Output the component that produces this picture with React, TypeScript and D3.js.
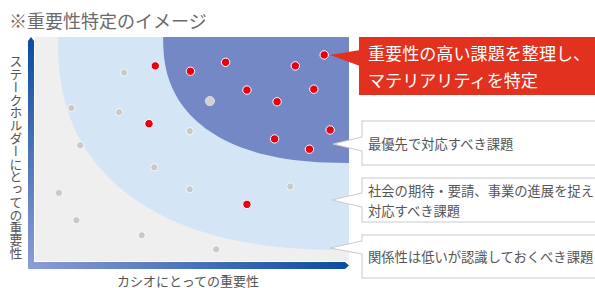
import React from "react";
import * as d3 from "d3";

// importance scores (0-100), x = company, y = stakeholders
const redX = [38.3, 49.5, 60.7, 82.9, 92.1, 67.5, 88.8, 77.1, 36.3, 94.0, 76.3, 87.4, 67.5];
const redY = [87.1, 84.7, 88.7, 87.1, 92.0, 76.3, 76.7, 71.1, 61.3, 58.5, 54.5, 49.9, 25.3];
const grayX = [28.4, 11.6, 26.8, 14.4, 49.3, 38.0, 49.3, 81.3, 7.6, 13.2, 34.0, 57.7];
const grayY = [84.1, 68.3, 66.4, 51.7, 58.0, 41.8, 32.0, 33.3, 30.4, 18.2, 11.5, 5.2];
const bigGrayX = [55.7];
const bigGrayY = [71.4];

// zone edges: where each band meets the top edge (x) and the right edge (y)
const zoneTopX = [7.3, 40.8];
const zoneRightY = [4.9, 43.8];
const zoneColors = ["#d4e5f5", "#7388c4"];

const title = "※重要性特定のイメージ";
const yLabel = "ステークホルダーにとっての重要性";
const xLabel = "カシオにとっての重要性";
const redLines = ["重要性の高い課題を整理し、", "マテリアリティを特定"];
const boxLines = [
  ["最優先で対応すべき課題"],
  ["社会の期待・要請、事業の進展を捉え", "対応すべき課題"],
  ["関係性は低いが認識しておくべき課題"],
];

const W = 595, H = 288;
const left = 35, right = 349, top = 37, bottom = 261;
const font = "'Noto Sans CJK JP', 'Noto Sans', sans-serif";

export default function App() {
  const x = d3.scaleLinear().domain([0, 100]).range([left, right]);
  const y = d3.scaleLinear().domain([0, 100]).range([bottom, top]);

  // squarish quarter ellipse anchored at the top-right corner
  const zonePath = (i: number) => {
    const rx = right - x(zoneTopX[i]);
    const ry = y(zoneRightY[i]) - top;
    const n = 2.4;
    const pts: [number, number][] = d3.range(0, 41).map((k) => {
      const t = (k / 40) * (Math.PI / 2);
      return [right - rx * Math.pow(Math.cos(t), 2 / n), top + ry * Math.pow(Math.sin(t), 2 / n)];
    });
    pts.push([right, top]);
    return d3.line()(pts) + "Z";
  };

  const boxes = [
    { y0: 121, y1: 165, tip: [333, 144], b0: 137, b1: 151 },
    { y0: 178, y1: 222, tip: [332, 200], b0: 193, b1: 207 },
    { y0: 235, y1: 278, tip: [330, 248], b0: 241, b1: 254 },
  ];

  return (
    <svg width={W} height={H} style={{ position: "absolute", left: 0, top: 0, fontFamily: font }}>
      <defs>
        <linearGradient id="gy" x1="0" y1="0" x2="0" y2="1">
          <stop offset="0" stopColor="#0b4c9f" />
          <stop offset="1" stopColor="#8c9dd4" />
        </linearGradient>
        <linearGradient id="gx" x1="0" y1="0" x2="1" y2="0">
          <stop offset="0" stopColor="#8c9dd4" />
          <stop offset="1" stopColor="#0b4c9f" />
        </linearGradient>
      </defs>

      <text x={9} y={20} fontSize={18} fill="#6a6a6a" dominantBaseline="central">{title}</text>

      <rect x={left} y={top} width={right - left} height={bottom - top} fill="#efefef" />
      {zoneColors.map((c, i) => (
        <path key={i} d={zonePath(i)} fill={c} />
      ))}

      {grayX.map((v, i) => (
        <circle key={"g" + i} cx={x(v)} cy={y(grayY[i])} r={3.6} fill="#c9c9c9" stroke="#fff" strokeWidth={0.8} />
      ))}
      {bigGrayX.map((v, i) => (
        <circle key={"b" + i} cx={x(v)} cy={y(bigGrayY[i])} r={4.6} fill="#d2d2d2" stroke="#e6e6e6" strokeWidth={0.8} />
      ))}
      {redX.map((v, i) => (
        <circle key={"r" + i} cx={x(v)} cy={y(redY[i])} r={4.2} fill="#e60012" stroke="#fff" strokeWidth={1} />
      ))}

      {/* axes */}
      <path d={`M28,269 L28,41 L31,37 L34,41 L34,269 Z`} fill="url(#gy)" />
      <path d={`M28,262 L345,262 L349,265.5 L345,269 L28,269 Z`} fill="url(#gx)" />

      <text
        x={16}
        y={55}
        fontSize={12.8}
        fill="#555"
        style={{ writingMode: "vertical-rl", textOrientation: "upright" } as any}
      >
        {yLabel}
      </text>
      <text x={188} y={280} fontSize={13} fill="#555" textAnchor="middle" dominantBaseline="central">{xLabel}</text>

      {/* red callout */}
      <rect x={359} y={37} width={250} height={58} fill="#e2311f" />
      <path d="M330,55 L360,50 L360,66 Z" fill="#e2311f" />
      {redLines.map((t, i) => (
        <text key={i} x={368} y={52 + i * 27} fontSize={17.1} fill="#fff" dominantBaseline="central">{t}</text>
      ))}

      {/* white callouts */}
      {boxes.map((b, i) => (
        <g key={i}>
          <rect x={362} y={b.y0} width={250} height={b.y1 - b.y0} fill="#fff" stroke="#cacaca" strokeWidth={1} />
          <path d={`M362,${b.b0} L${b.tip[0]},${b.tip[1]} L362,${b.b1}`} fill="#fff" stroke="#cacaca" strokeWidth={1} />
          <rect x={361} y={b.b0 + 0.8} width={2} height={b.b1 - b.b0 - 1.6} fill="#fff" />
          {boxLines[i].map((t, j) => (
            <text
              key={j}
              x={368}
              y={(b.y0 + b.y1) / 2 + (j - (boxLines[i].length - 1) / 2) * 20}
              fontSize={13.3}
              fill="#555"
              dominantBaseline="central"
            >
              {t}
            </text>
          ))}
        </g>
      ))}
    </svg>
  );
}
